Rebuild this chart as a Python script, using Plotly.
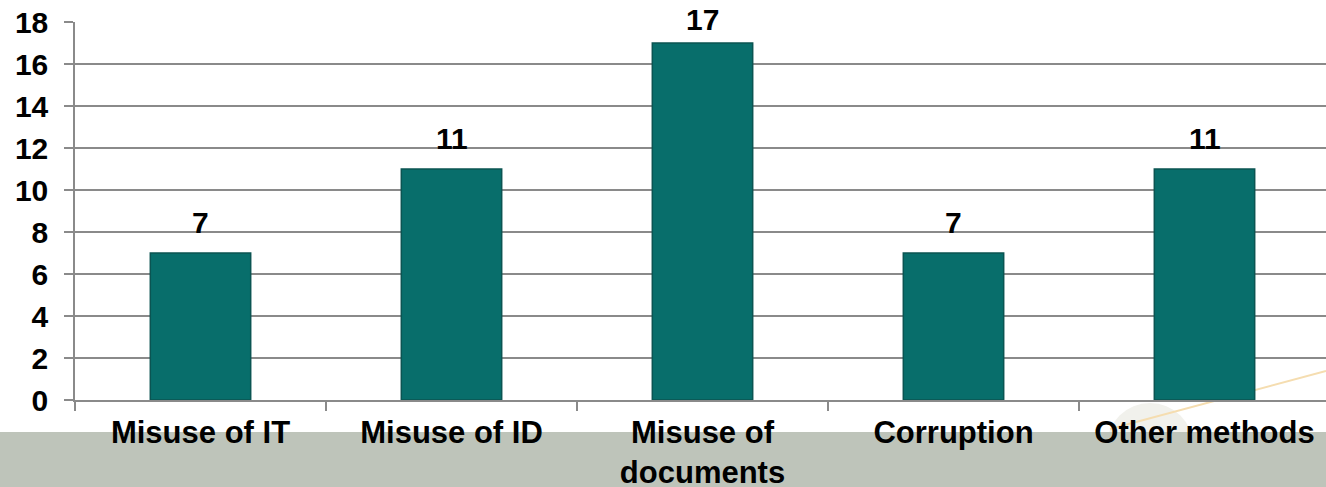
import plotly.graph_objects as go

categories = ["Misuse of IT", "Misuse of ID", "Misuse of<br>documents", "Corruption", "Other methods"]
values = [7, 11, 17, 7, 11]
y_ticks = [0, 2, 4, 6, 8, 10, 12, 14, 16, 18]

FONT = "Liberation Sans, Arial, sans-serif"
BAR = "#086E6B"
Y_MAX = 18

W, H = 1326, 487
ML, MT, MB = 75, 22, 87
PW = W - ML            # plot width
PH = H - MT - MB       # plot height


def px(xp):            # page x (px) -> paper x
    return (xp - ML) / PW


def py(yp):            # page y (px) -> paper y
    return (H - MB - yp) / PH


fig = go.Figure()
fig.add_trace(go.Bar(
    x=categories, y=values,
    marker=dict(color=BAR, line=dict(color="#0B5452", width=1.5)),
    hoverinfo="skip",
))

for c, v in zip(categories, values):
    fig.add_annotation(
        x=c, y=v, text=f"<b>{v}</b>", showarrow=False,
        yanchor="bottom", yshift=12 if v < Y_MAX - 2 else 5,
        font=dict(family=FONT, size=30, color="#000000"),
    )

# decorative slide background elements
fig.add_shape(type="circle", xref="paper", yref="paper",
              x0=px(1107), x1=px(1193), y0=py(488), y1=py(403),
              fillcolor="#F1F1EC", line=dict(width=0), layer="below")
fig.add_shape(type="line", xref="paper", yref="paper",
              x0=px(1110), y0=py(429), x1=1.0, y1=py(371),
              line=dict(color="#F5DDB0", width=2), layer="below")
fig.add_shape(type="rect", xref="paper", yref="paper",
              x0=-0.1, x1=1.1, y0=py(432), y1=py(520),
              fillcolor="#BEC4BA", line=dict(width=0), layer="below")

fig.update_layout(
    width=W, height=H,
    margin=dict(l=ML, r=0, t=MT, b=MB, autoexpand=False),
    paper_bgcolor="white",
    plot_bgcolor="rgba(0,0,0,0)",
    bargap=0.6,
    showlegend=False,
    font=dict(family=FONT, color="#000000"),
    xaxis=dict(
        range=[-0.5, -0.5 + PW / 251],
        showline=True, linecolor="#8A8A8A", linewidth=1.5,
        ticks="outside", tickson="boundaries", ticklen=9, tickcolor="#8A8A8A", tickwidth=1.5,
        tickfont=dict(family=FONT, size=31, color="#000000", weight="bold"),
        ticklabelstandoff=4, automargin=False,
        showgrid=False, fixedrange=True,
    ),
    yaxis=dict(
        range=[0, Y_MAX], tickvals=y_ticks, ticktext=[str(t) for t in y_ticks],
        showline=True, linecolor="#8A8A8A", linewidth=1.5,
        ticks="outside", ticklen=9, tickcolor="#8A8A8A", tickwidth=1.5,
        showgrid=True, gridcolor="#8A8A8A", gridwidth=1.5,
        zeroline=False, automargin=False,
        tickfont=dict(family=FONT, size=30, color="#000000", weight="bold"),
        ticklabelstandoff=10,
        fixedrange=True,
    ),
)

fig.write_html(
    "out.html",
    config={"displayModeBar": False},
    post_script="document.body.style.margin='0';document.body.style.overflow='hidden';",
)
